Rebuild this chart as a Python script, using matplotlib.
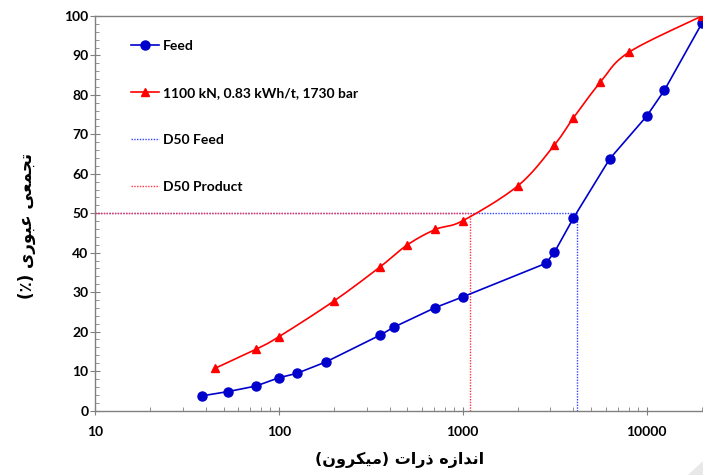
import numpy as np
import matplotlib
matplotlib.use('Agg')
import matplotlib.pyplot as plt
from matplotlib.ticker import FixedLocator, NullFormatter
from matplotlib.patches import Polygon

# Feed
feed_size = [38, 53, 75, 100, 125, 180, 355, 425, 710, 1000, 2830, 3150, 4000, 6300, 10000, 12500, 20000]
feed_pass = [3.7, 4.8, 6.2, 8.3, 9.4, 12.3, 19.1, 21.2, 26.1, 28.8, 37.3, 40.1, 48.8, 63.8, 74.6, 81.2, 98.2]

# Product 1100 kN, 0.83 kWh/t, 1730 bar
prod_size = [45, 75, 100, 200, 355, 500, 710, 1000, 2000, 3150, 4000, 5600, 8000, 20000]
prod_pass = [10.7, 15.5, 18.7, 27.8, 36.4, 42.0, 45.9, 48.1, 57.0, 67.3, 74.2, 83.2, 90.8, 100.0]

d50_feed = 4190
d50_prod = 1100

xticks = [10, 100, 1000, 10000]
yticks = list(range(0, 101, 10))

# persian letter forms: isolated, final, initial, medial
FORMS = {
    'ا': ('\uFE8D', '\uFE8E', None, None),
    'ن': ('\uFEE5', '\uFEE6', '\uFEE7', '\uFEE8'),
    'د': ('\uFEA9', '\uFEAA', None, None),
    'ز': ('\uFEAF', '\uFEB0', None, None),
    'ه': ('\uFEE9', '\uFEEA', '\uFEEB', '\uFEEC'),
    'ذ': ('\uFEAB', '\uFEAC', None, None),
    'ر': ('\uFEAD', '\uFEAE', None, None),
    'ت': ('\uFE95', '\uFE96', '\uFE97', '\uFE98'),
    'م': ('\uFEE1', '\uFEE2', '\uFEE3', '\uFEE4'),
    'ی': ('\uFEEF', '\uFEF0', '\uFEF3', '\uFEF4'),
    'ک': ('\uFB8E', '\uFB8F', '\uFB90', '\uFB91'),
    'و': ('\uFEED', '\uFEEE', None, None),
    'ج': ('\uFE9D', '\uFE9E', '\uFE9F', '\uFEA0'),
    'ع': ('\uFEC9', '\uFECA', '\uFECB', '\uFECC'),
    'ب': ('\uFE8F', '\uFE90', '\uFE91', '\uFE92'),
}


def shape(text):
    out = []
    for i, ch in enumerate(text):
        if ch not in FORMS:
            out.append(ch)
            continue
        iso, fin, ini, med = FORMS[ch]
        prev = text[i - 1] if i > 0 else ''
        nxt = text[i + 1] if i + 1 < len(text) else ''
        jp = prev in FORMS and FORMS[prev][2] is not None
        jn = ini is not None and nxt in FORMS
        if jp and jn:
            out.append(med)
        elif jp:
            out.append(fin)
        elif jn:
            out.append(ini)
        else:
            out.append(iso)
    s = ''.join(out)[::-1]
    return s.translate(str.maketrans('()', ')('))


def smooth(xs, ys, n=24):
    P = np.column_stack([np.log10(xs), ys])
    P = np.vstack([P[0], P, P[-1]])
    t = np.linspace(0, 1, n, endpoint=False)[:, None]
    segs = []
    for i in range(1, len(P) - 2):
        p0, p1, p2, p3 = P[i - 1], P[i], P[i + 1], P[i + 2]
        segs.append(0.5 * (2 * p1 + (-p0 + p2) * t + (2 * p0 - 5 * p1 + 4 * p2 - p3) * t ** 2
                           + (-p0 + 3 * p1 - 3 * p2 + p3) * t ** 3))
    segs.append(P[-2][None, :])
    arr = np.vstack(segs)
    return 10 ** arr[:, 0], arr[:, 1]


fig = plt.figure(figsize=(7.03, 4.75), dpi=100)
ax = fig.add_axes([95 / 703, 1 - 410.5 / 475, 607 / 703, 394.5 / 475])

blue = '#0000CC'
red = '#FF0000'

ax.plot(feed_size, feed_pass, color=blue, lw=1.2, marker='o', ms=6.5, label='Feed', zorder=4)
sx, sy = smooth(prod_size, prod_pass)
ax.plot(sx, sy, color=red, lw=1.2, zorder=4)
ax.plot(prod_size, prod_pass, color=red, lw=0, marker='^', ms=6, zorder=4)
# legend proxy for product
ax.plot([], [], color=red, lw=1.2, marker='^', ms=6, label='1100 kN, 0.83 kWh/t, 1730 bar')

ax.plot([10, d50_feed], [50, 50], color='#3344FF', lw=1, ls=(0, (1, 1)), label='D50 Feed', zorder=2)
ax.plot([d50_feed, d50_feed], [0, 50], color='#3344FF', lw=1, ls=(0, (1, 1)), zorder=2)
ax.plot([10, d50_prod], [50, 50], color='#FF3344', lw=1, ls=(0, (1, 1)), label='D50 Product', zorder=3)
ax.plot([d50_prod, d50_prod], [0, 50], color='#FF3344', lw=1, ls=(0, (1, 1)), zorder=3)

ax.set_xscale('log')
ax.set_xlim(10, 20000)
ax.set_ylim(0, 100)
ax.xaxis.set_major_locator(FixedLocator(xticks))
ax.set_xticklabels([str(v) for v in xticks])
minors = [m * 10 ** k for k in range(1, 5) for m in range(2, 10) if m * 10 ** k <= 20000]
ax.xaxis.set_minor_locator(FixedLocator(minors))
ax.xaxis.set_minor_formatter(NullFormatter())
ax.set_yticks(yticks)
ax.set_yticks(list(range(0, 101, 2)), minor=True)

for side in ['left', 'bottom', 'top']:
    ax.spines[side].set_color('#808080')
    ax.spines[side].set_linewidth(1)
ax.spines['right'].set_visible(False)

ax.tick_params(axis='x', which='major', direction='inout', length=6, color='#808080', pad=8)
ax.tick_params(axis='y', which='major', direction='inout', length=6.5, color='#808080', pad=1.5)
ax.tick_params(which='minor', direction='in', length=3.2, color='#808080')
for lab in ax.get_xticklabels() + ax.get_yticklabels():
    lab.set_fontfamily('Lato')
    lab.set_fontweight('bold')
    lab.set_fontsize(10)

leg = ax.legend(loc='upper left', bbox_to_anchor=(0.059, 0.94), frameon=False,
                borderpad=0, borderaxespad=0, handlelength=2.0, handletextpad=0.3,
                labelspacing=2.52, numpoints=1,
                prop={'family': 'Lato', 'weight': 'bold', 'size': 10})

fig.text(400 / 703, 1 - 460 / 475, shape('اندازه ذرات (میکرون)'), ha='center', va='center',
         fontsize=11.5, fontweight='bold', family=['DejaVu Sans'])
fig.text(27 / 703, 1 - 226 / 475, shape('تجمعی عبوری (٪)'), ha='center', va='center',
         rotation=90, fontsize=12, fontweight='bold', family=['DejaVu Sans'])

fig.patches.append(Polygon([[688 / 703, 0], [1, 0], [1, 14 / 475]], closed=True,
                           transform=fig.transFigure, facecolor='#e8e8e8', edgecolor='none'))

fig.savefig('out.png', dpi=100)
